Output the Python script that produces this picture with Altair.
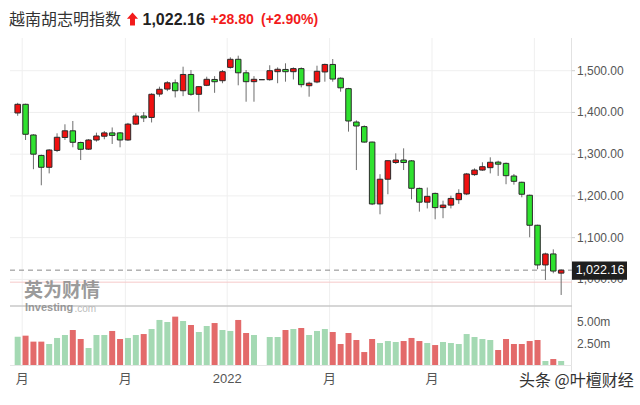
import altair as alt
import pandas as pd

# ---------------- data ----------------
opens = [1398.7, 1419.5, 1346, 1297, 1268.6, 1309, 1340, 1356, 1328, 1312,
         1334, 1343, 1351, 1351, 1334, 1372, 1391.5, 1388, 1444, 1456,
         1471, 1452, 1491, 1443.5, 1465, 1479, 1476, 1508, 1527.3, 1495,
         1473.7, 1478.5, 1478.5, 1497.6, 1503, 1497.6, 1505, 1464, 1473, 1497,
         1515, 1482, 1457, 1377, 1366, 1329, 1180.7, 1240, 1280, 1286,
         1284, 1218, 1185, 1206, 1172, 1178, 1191, 1204.7, 1251, 1262,
         1267.7, 1281, 1278, 1247.7, 1232.7, 1201.6, 1129.7, 1034.6, 1061, 1015]
highs = [1423, 1421, 1348, 1299, 1312, 1350, 1371.6, 1379.5, 1330, 1336,
         1351.5, 1355.6, 1364, 1353, 1375, 1398, 1401, 1446, 1461.7, 1475,
         1479, 1509.6, 1501.7, 1463, 1485.6, 1487, 1501.7, 1532, 1536, 1501.7,
         1487, 1478.5, 1513, 1508, 1517.7, 1508, 1508, 1473.7, 1512, 1517,
         1528, 1484, 1459, 1381, 1369, 1330, 1252, 1285, 1302, 1314,
         1286, 1220, 1220, 1208, 1188.6, 1200.6, 1216, 1255, 1266, 1280.6,
         1292.5, 1284.4, 1280, 1252.6, 1234, 1203, 1131, 1064, 1072, 1024]
lows = [1392, 1334, 1264, 1225.5, 1254, 1305, 1334, 1316.5, 1286, 1310,
        1330, 1335.7, 1324.5, 1316.5, 1332, 1370, 1377, 1376, 1437.7, 1451,
        1436, 1439, 1440, 1402, 1463, 1447, 1470, 1505, 1465, 1425.7,
        1425.7, 1478.5, 1476, 1470, 1473.7, 1479, 1460, 1437.7, 1470, 1473.7,
        1473.7, 1449.7, 1354, 1262, 1327.5, 1178, 1156, 1204, 1276.5, 1262,
        1192, 1162.3, 1170, 1144, 1146.6, 1170, 1181, 1202, 1248, 1260,
        1254, 1248, 1228, 1227, 1196.7, 1101, 1024.3, 998.7, 1014.7, 962.7]
closes = [1419.5, 1347.7, 1300, 1268.6, 1310, 1340.5, 1356, 1328.5, 1311.7, 1334,
          1343.6, 1351, 1345, 1334, 1372, 1391.5, 1387, 1443.5, 1455.5, 1471,
          1452, 1491, 1443.5, 1461.7, 1479.4, 1473.6, 1497.6, 1527.3, 1495, 1473.7,
          1479.4, 1478.5, 1500, 1503.4, 1497.6, 1505, 1466.5, 1470, 1498.6, 1515,
          1480, 1459, 1379.5, 1367.5, 1329, 1180.7, 1240, 1284.4, 1286, 1280,
          1218.3, 1185, 1199, 1172, 1178, 1194, 1206, 1252.6, 1262, 1270,
          1280.6, 1276, 1248.5, 1235, 1204, 1129.7, 1034.6, 1061, 1020, 1022.16]
volumes_m = [3.32, 3.44, 2.74, 2.74, 2.46, 3.17, 3.52, 4.10, 3.05, 1.99,
             3.52, 3.52, 3.99, 3.05, 3.17, 3.52, 3.63, 4.22, 5.28, 5.04,
             5.67, 5.16, 4.69, 3.87, 4.57, 4.92, 4.10, 3.99, 5.28, 3.75,
             3.52, 0.0, 3.28, 3.28, 4.10, 4.22, 4.34, 3.52, 3.99, 4.22,
             3.87, 2.46, 3.75, 2.93, 1.52, 3.05, 2.58, 2.81, 2.70, 2.81,
             3.17, 2.81, 2.58, 2.34, 2.70, 2.58, 2.46, 3.63, 3.28, 3.05,
             2.93, 1.76, 3.05, 2.46, 2.46, 2.81, 2.93, 0.47, 0.70, 0.47]

price_ticks = [1000, 1100, 1200, 1300, 1400, 1500]
price_tick_labels = ["1,000.00", "1,100.00", "1,200.00", "1,300.00", "1,400.00", "1,500.00"]
vol_ticks = [2.5, 5.0]
vol_tick_labels = ["2.50m", "5.00m"]
x_grid = [0.57, 13.67, 26.6, 39.6, 52.6, 65.6]
x_tick_pos = [0.57, 13.67, 26.6, 39.6, 52.6]
x_tick_labels = ["月", "月", "2022", "月", "月"]
last_price = 1022.16
last_price_label = "1,022.16"
prev_close = 993.36

title_name = "越南胡志明指数"
title_price = "1,022.16"
title_change = "+28.80"
title_pct = "(+2.90%)"
logo_cn = "英为财情"
logo_en = "Investing"
logo_com = ".com"
credit = "头条 @叶檀财经"

# ---------------- tables ----------------
df = pd.DataFrame({"i": list(range(len(opens))), "open": opens, "high": highs,
                   "low": lows, "close": closes, "vol": volumes_m})
ptick_df = pd.DataFrame({"v": price_ticks, "lab": price_tick_labels})
vtick_df = pd.DataFrame({"v": vol_ticks, "lab": vol_tick_labels})
xgrid_df = pd.DataFrame({"g": x_grid})
xtick_df = pd.DataFrame({"g": x_tick_pos, "lab": x_tick_labels})
last_df = pd.DataFrame({"p": [last_price], "p_hi": [last_price + 21], "p_lo": [last_price - 23],
                        "lab": [last_price_label]})
prev_df = pd.DataFrame({"p": [prev_close]})

NUMFONT = "Liberation Sans, Noto Sans CJK SC"
CJK = "Noto Sans CJK SC"
RED = "#f01010"
GREEN = "#2fe22f"

X = alt.Scale(domain=[-0.34, 69.74], range=[10, 572], nice=False, zero=False)
PY = alt.Scale(domain=[1000, 1500], range=[279.4, 70.7], nice=False, zero=False)
VY = alt.Scale(domain=[0, 5], range=[365, 322.35], nice=False, zero=False)

base = alt.Chart(df)
one = alt.Chart(xgrid_df.head(1))
layers = []

# grid lines (price panel horizontal)
layers.append(alt.Chart(ptick_df).mark_rule(color="#efefef", strokeWidth=1).encode(
    x=alt.value(10), x2=alt.value(572),
    y=alt.Y("v:Q", scale=PY, axis=None)))
# vertical grid
layers.append(alt.Chart(xgrid_df).mark_rule(color="#efefef", strokeWidth=1).encode(
    x=alt.X("g:Q", scale=X, axis=None), y=alt.value(38), y2=alt.value(365)))
# right border
layers.append(one.mark_rule(color="#e2e2e2", strokeWidth=1).encode(
    x=alt.value(571.5), y=alt.value(38), y2=alt.value(372)))
# panel separator & volume baseline
layers.append(one.mark_rule(color="#c9c9c9", strokeWidth=1.5).encode(
    x=alt.value(10), x2=alt.value(572), y=alt.value(306)))
layers.append(one.mark_rule(color="#e6e6e6", strokeWidth=1).encode(
    x=alt.value(10), x2=alt.value(572), y=alt.value(365.5)))

# previous close (pink) and last price (dashed)
layers.append(alt.Chart(prev_df).mark_rule(color="#f6c9c9", strokeWidth=1).encode(
    x=alt.value(10), x2=alt.value(572), y=alt.Y("p:Q", scale=PY, axis=None)))
layers.append(alt.Chart(last_df).mark_rule(color="#8a8a8a", strokeWidth=1, strokeDash=[5, 4]).encode(
    x=alt.value(10), x2=alt.value(572), y=alt.Y("p:Q", scale=PY, axis=None)))

# volume bars
layers.append(base.mark_bar(width=6).encode(
    x=alt.X("i:Q", scale=X, axis=None),
    y=alt.Y("vol:Q", scale=VY, axis=None),
    color=alt.condition("datum.close >= datum.open", alt.value("#a4d9b3"), alt.value("#e36a6a"))))

# candles
layers.append(base.mark_rule(color="#6e6e6e", strokeWidth=1).encode(
    x=alt.X("i:Q", scale=X, axis=None),
    y=alt.Y("low:Q", scale=PY, axis=None), y2="high:Q"))
layers.append(base.mark_bar(width=5.5, stroke="#2a2a2a", strokeWidth=1).encode(
    x=alt.X("i:Q", scale=X, axis=None),
    y=alt.Y("open:Q", scale=PY, axis=None), y2="close:Q",
    color=alt.condition("datum.close >= datum.open", alt.value(RED), alt.value(GREEN))))

# price axis ticks + labels
layers.append(alt.Chart(ptick_df).mark_rule(color="#cfcfcf").encode(
    x=alt.value(571.5), x2=alt.value(575), y=alt.Y("v:Q", scale=PY, axis=None)))
layers.append(alt.Chart(ptick_df).mark_text(align="left", baseline="middle", font=NUMFONT,
                                            fontSize=12, color="#555").encode(
    x=alt.value(577), y=alt.Y("v:Q", scale=PY, axis=None), text="lab:N"))
# volume axis labels
layers.append(alt.Chart(vtick_df).mark_text(align="left", baseline="middle", font=NUMFONT,
                                            fontSize=12, color="#555").encode(
    x=alt.value(577), y=alt.Y("v:Q", scale=VY, axis=None), text="lab:N"))

# last price box (covers the top of the 1,000.00 label, as in the reference)
layers.append(alt.Chart(last_df).mark_rect(color="#1f1f1f").encode(
    x=alt.value(572), x2=alt.value(627),
    y=alt.Y("p_hi:Q", scale=PY, axis=None), y2="p_lo:Q"))
layers.append(alt.Chart(last_df).mark_text(align="center", baseline="middle", font=NUMFONT,
                                           fontSize=12.5, color="white").encode(
    x=alt.value(600), y=alt.Y("p:Q", scale=PY, axis=None), text="lab:N"))

# x labels
layers.append(alt.Chart(xtick_df).mark_text(align="center", baseline="middle", font=NUMFONT,
                                            fontSize=13, color="#555").encode(
    x=alt.X("g:Q", scale=X, axis=None), y=alt.value(379), text="lab:N"))


def txt(s, x, y, size, color, font, weight="normal", align="left", opacity=1.0):
    return one.mark_text(
        align=align, baseline="middle", font=font, fontSize=size, color=color,
        fontWeight=weight, opacity=opacity, text=s).encode(x=alt.value(x), y=alt.value(y))


# title
layers.append(txt(title_name, 9, 19.5, 16, "#333", CJK))
arrow_path = "M0,-1 L0.85,-0.05 L0.38,-0.05 L0.38,1 L-0.38,1 L-0.38,-0.05 L-0.85,-0.05 Z"
layers.append(one.mark_point(shape=arrow_path, filled=True, size=170, color="#f21b1b",
                             opacity=1, strokeWidth=0).encode(x=alt.value(132.5), y=alt.value(19)))
layers.append(txt(title_price, 142.5, 19.5, 16, "#222", NUMFONT, weight="bold"))
layers.append(txt(title_change, 210.5, 19.5, 14, "#f21b1b", NUMFONT, weight="bold"))
layers.append(txt(title_pct, 261, 19.5, 14, "#f21b1b", NUMFONT, weight="bold"))

# watermark logo
layers.append(txt(logo_cn, 24, 290.5, 19, "#8a8a8a", CJK, weight="bold", opacity=0.85))
layers.append(txt(logo_en, 25, 308, 11, "#8a8a8a", NUMFONT, weight="bold", opacity=0.85))
layers.append(txt(logo_com, 74.5, 308.5, 10, "#bbbbbb", NUMFONT))

# credit
layers.append(txt(credit, 519, 381, 16, "#333", CJK))

chart = alt.layer(*layers).resolve_scale(y="independent").properties(
    width=640, height=405, padding=0,
    autosize=alt.AutoSizeParams(type="none"),
    background="white",
).configure_view(strokeWidth=0)

chart.save("out.html", embed_options={"renderer": "svg", "actions": False})
